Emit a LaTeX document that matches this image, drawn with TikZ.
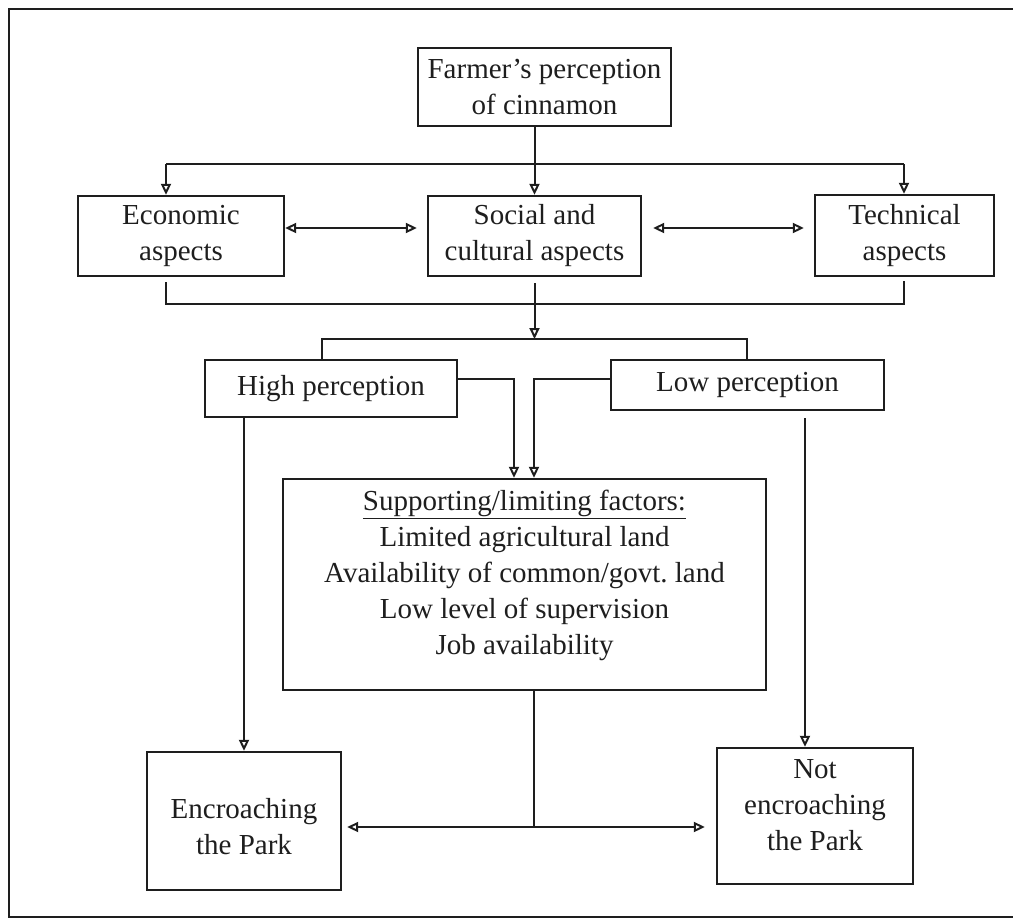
\documentclass[tikz,border=0pt]{standalone}
\usepackage{fontspec}
\setmainfont{Liberation Serif}
\usetikzlibrary{arrows.meta}
\definecolor{ink}{RGB}{30,30,30}
\begin{document}
\begin{tikzpicture}[x=1pt,y=-1pt,
  every node/.style={font=\fontsize{29}{36}\selectfont, text=ink},
  box/.style={draw=ink, line width=2.4pt, inner sep=0pt, align=center},
  link/.style={draw=ink, line width=2pt},
  arr/.style={link, -{Triangle[open,length=11pt,width=10pt]}},
  darr/.style={link, {Triangle[open,length=11pt,width=10pt]}-{Triangle[open,length=11pt,width=10pt]}}]
\useasboundingbox (0,0) rectangle (1013,919);
% page frame, cut off on the right
\draw[draw=ink, line width=2.2pt] (1013,9) -- (9,9) -- (9,917) -- (1013,917);

% boxes
\node[box, minimum width=253pt, minimum height=78pt] (farmer) at (544.5,87) {Farmer's perception\\of cinnamon};
\node[box, minimum width=206pt, minimum height=80pt] (econ) at (181,236) {Economic\\aspects};
\node[box, minimum width=213pt, minimum height=80pt] (social) at (534.5,236) {Social and\\cultural aspects};
\node[box, minimum width=179pt, minimum height=81pt] (tech) at (904.5,235.5) {Technical\\aspects};
\node[box, minimum width=252pt, minimum height=57pt] (high) at (331,388.5) {High perception};
\node[box, minimum width=273pt, minimum height=50pt] (low) at (747.5,385) {Low perception};
\node[box, minimum width=483pt, minimum height=211pt] (supp) at (524.5,584.5)
  {\begin{tabular}{@{}c@{}}\underline{Supporting/limiting factors:}\\Limited agricultural land\\Availability of common/govt.\ land\\Low level of supervision\\Job availability\\[19pt]\end{tabular}};
\node[box, minimum width=194pt, minimum height=138pt] (encr) at (244,821)
  {\begin{tabular}{@{}c@{}}\rule{0pt}{42pt}Encroaching\\the Park\end{tabular}};
\node[box, minimum width=196pt, minimum height=136pt] (notenc) at (815,816)
  {\begin{tabular}{@{}c@{}}Not\\encroaching\\the Park\\[18pt]\end{tabular}};

% farmer to the three aspects
\draw[arr] (farmer.south -| social.north) -- (social.north);
\coordinate (ta) at (166,164);
\coordinate (tb) at (904,164);
\draw[link] (ta) -- (tb);
\draw[arr] (ta) -- (ta |- econ.north);
\draw[arr] (tb) -- (tb |- tech.north);

% links between the aspects
\draw[darr] ([yshift=8pt]econ.east) -- ([xshift=-10pt,yshift=8pt]social.west);
\draw[darr] ([xshift=11pt,yshift=8pt]social.east) -- ([xshift=-10pt,yshift=7.5pt]tech.west);

% aspects joined below
\coordinate (ba) at (166,304);
\coordinate (bb) at (904,304);
\coordinate (ca) at (322,339);
\coordinate (cb) at (747,339);
\draw[link] (econ.south -| ba) ++(0,5) -- (ba) -- (bb) -- ++(0,-23);
\draw[arr] (social.south) ++(0,6) -- (social.south |- ca);

% split into high and low perception
\draw[link] (ca |- high.north) -- (ca) -- (cb) -- (cb |- low.north);

% both perceptions into the factors box
\coordinate (hx) at (514,379);
\coordinate (lx) at (534,379);
\draw[arr] (high.east |- hx) -- (hx) -- (hx |- supp.north);
\draw[arr] (low.west |- lx) -- (lx) -- (lx |- supp.north);

% outcomes
\coordinate (ld) at (805,0);
\draw[arr] (high.south -| encr.north) -- (encr.north);
\draw[arr] (low.south -| ld) ++(0,7) -- (notenc.north -| ld);
\coordinate (j) at (534,827);
\draw[link] (supp.south -| j) -- (j);
\draw[arr, shorten >=5pt] (j) -- (encr.east |- j);
\draw[arr, shorten >=11pt] (j) -- (notenc.west |- j);
\end{tikzpicture}
\end{document}
